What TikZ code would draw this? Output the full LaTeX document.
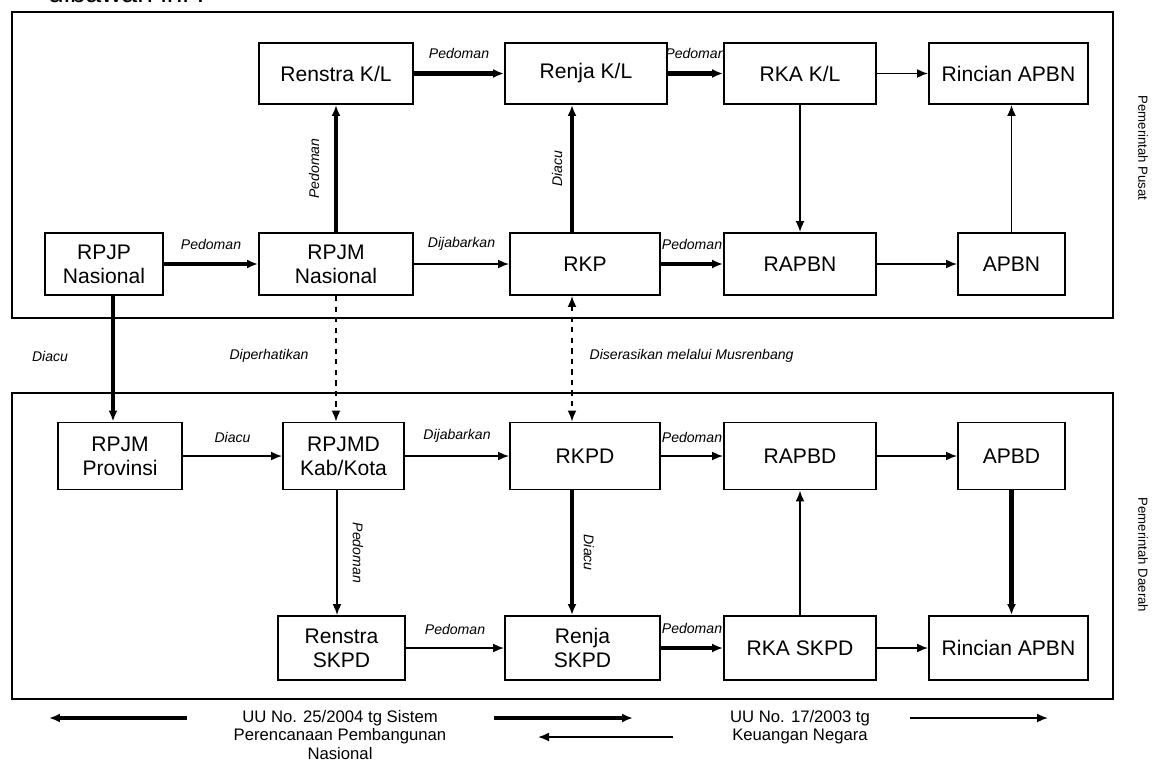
\documentclass[tikz,border=0pt]{standalone}
\usepackage{fontspec}
\setmainfont{Liberation Sans}
\usetikzlibrary{arrows.meta}

\begin{document}
\begin{tikzpicture}[
		x=0.02cm, y=-0.02cm,
		>={Latex[length=2.2mm,width=1.8mm]},
		line join=miter,
		kotak/.style={draw, line width=1.1pt, align=center, inner sep=1pt, font=\fontsize{12}{13.5}\selectfont},
		bingkai/.style={draw, line width=1.3pt},
		tebal/.style={->, line width=2.4pt},
		tipis/.style={->, line width=1pt},
		putus/.style={->, line width=1pt, dashed},
		ket/.style={font=\fontsize{8}{9}\selectfont\itshape, inner sep=1pt},
		sisi/.style={font=\fontsize{7.5}{9}\selectfont, rotate=-90},
		legenda/.style={font=\fontsize{9.5}{10.5}\selectfont, align=center}
		]
		\useasboundingbox (0,0) rectangle (1169,774);
		\clip (0,0) rectangle (1169,774);
		\node[anchor=base west, font=\fontsize{16}{18}\selectfont] (judul) at (42,3) {dibawah ini :};
		\draw[bingkai] (12,12) rectangle (1113,318);
		\draw[bingkai] (12,393) rectangle (1113,699);
		\node[sisi] (pusat) at (1143,148) {Pemerintah Pusat};
		\node[sisi] (daerah) at (1143,555) {Pemerintah Daerah};
		% pusat
		\node[kotak, minimum width=3.08cm, minimum height=1.22cm] (renstrakl) at (336,73.5) {Renstra K/L};
		\node[kotak, minimum width=3.24cm, minimum height=1.22cm] (renjakl) at (586,73.5) {Renja K/L};
		\node[kotak, minimum width=3.04cm, minimum height=1.22cm] (rkakl) at (800,73.5) {RKA K/L};
		\node[kotak, minimum width=3.18cm, minimum height=1.22cm] (rincianatas) at (1008.5,73.5) {Rincian APBN};
		\node[kotak, minimum width=2.36cm, minimum height=1.24cm] (rpjp) at (104,264) {RPJP\\Nasional};
		\node[kotak, minimum width=3.08cm, minimum height=1.24cm] (rpjm) at (336,264) {RPJM\\Nasional};
		\node[kotak, minimum width=3.00cm, minimum height=1.24cm] (rkp) at (585,264) {RKP};
		\node[kotak, minimum width=3.04cm, minimum height=1.24cm] (rapbn) at (800,264) {RAPBN};
		\node[kotak, minimum width=2.14cm, minimum height=1.24cm] (apbn) at (1011.5,264) {APBN};
		% daerah
		\node[kotak, minimum width=2.48cm, minimum height=1.34cm] (rpjmprov) at (120,456) {RPJM\\Provinsi};
		\node[kotak, minimum width=2.42cm, minimum height=1.34cm] (rpjmd) at (343.5,456) {RPJMD\\Kab/Kota};
		\node[kotak, minimum width=3.00cm, minimum height=1.34cm] (rkpd) at (585,456) {RKPD};
		\node[kotak, minimum width=3.04cm, minimum height=1.34cm] (rapbd) at (800,456) {RAPBD};
		\node[kotak, minimum width=2.14cm, minimum height=1.34cm] (apbd) at (1011.5,456) {APBD};
		\node[kotak, minimum width=2.54cm, minimum height=1.28cm] (renstraskpd) at (341.5,648) {Renstra\\SKPD};
		\node[kotak, minimum width=3.10cm, minimum height=1.28cm] (renjaskpd) at (582.5,648) {Renja\\SKPD};
		\node[kotak, minimum width=3.04cm, minimum height=1.28cm] (rkaskpd) at (800,648) {RKA SKPD};
		\node[kotak, minimum width=3.18cm, minimum height=1.28cm] (rincianbawah) at (1008.5,648) {Rincian APBN};
		% panah
		\draw[tebal] (rpjp.east) -- (rpjm.west) node[ket, midway, above=6pt] {Pedoman};
		\draw[tebal] (rpjm.north) -- (renstrakl.south) node[ket, midway, xshift=-0.44cm, rotate=90] {Pedoman};
		\draw[tebal] (renstrakl.east) -- (renjakl.west) node[ket, midway, above=6pt] {Pedoman};
		\draw[tebal] (renjakl.east) -- (rkakl.west) node[ket, midway, above=6pt] {Pedoman};
		\draw[tipis] (rpjm.east) -- (rkp.west) node[ket, midway, above=6pt] {Dijabarkan};
		\draw[tebal] ([xshift=-0.26cm]rkp.north) -- ([xshift=-0.26cm]rkp.north |- renjakl.south) node[ket, midway, xshift=-0.3cm, rotate=90] {Diacu};
		\draw[tebal] (rkp.east) -- (rapbn.west) node[ket, midway, above=6pt] {Pedoman};
		\draw[tipis] (rkakl.east) -- (rincianatas.west);
		\draw[tipis] (rkakl.south) -- (rapbn.north);
		\draw[tipis] (rapbn.east) -- (apbn.west);
		\draw[tipis] (apbn.north) -- (apbn.north |- rincianatas.south);
		\draw[tebal] ([xshift=0.18cm]rpjp.south) -- ([xshift=0.18cm]rpjp.south |- rpjmprov.north) node[ket, pos=0.48, xshift=-1.26cm] {Diacu};
		\draw[putus] (rpjm.south) -- (rpjm.south |- rpjmd.north) node[ket, pos=0.48, xshift=-1.34cm] {Diperhatikan};
		\draw[putus, <->] ([xshift=-0.26cm]rkp.south) -- ([xshift=-0.26cm]rkp.south |- rkpd.north) node[ket, pos=0.48, anchor=west, xshift=0.3cm] {Diserasikan melalui Musrenbang};
		\draw[tipis] (rpjmprov.east) -- (rpjmd.west) node[ket, midway, above=6pt] {Diacu};
		\draw[tipis] (rpjmd.east) -- (rkpd.west) node[ket, midway, above=6pt] {Dijabarkan};
		\draw[tipis] ([xshift=-0.13cm]rpjmd.south) -- ([xshift=-0.13cm]rpjmd.south |- renstraskpd.north) node[ket, midway, xshift=0.42cm, rotate=-90] {Pedoman};
		\draw[tebal] ([xshift=-0.26cm]rkpd.south) -- ([xshift=-0.26cm]rkpd.south |- renjaskpd.north) node[ket, midway, xshift=0.34cm, rotate=-90] {Diacu};
		\draw[tipis] (rkpd.east) -- (rapbd.west) node[ket, midway, above=6pt] {Pedoman};
		\draw[tipis] (rapbd.east) -- (apbd.west);
		\draw[tipis] (renstraskpd.east) -- (renjaskpd.west) node[ket, midway, above=6pt] {Pedoman};
		\draw[tebal] (renjaskpd.east) -- (rkaskpd.west) node[ket, midway, above=6pt] {Pedoman};
		\draw[tipis] (rkaskpd.north) -- (rapbd.south);
		\draw[tipis] (rkaskpd.east) -- (rincianbawah.west);
		\draw[tebal] (apbd.south) -- (apbd.south |- rincianbawah.north);
		% legenda
		\coordinate (l1a) at (187,718);
		\coordinate (l1b) at (49,718);
		\coordinate (l2a) at (494,718);
		\coordinate (l2b) at (633,718);
		\coordinate (l3a) at (673,737);
		\coordinate (l3b) at (538,737);
		\coordinate (l4a) at (910,718);
		\coordinate (l4b) at (1048,718);
		\draw[tebal] (l1a) -- (l1b);
		\draw[tebal] (l2a) -- (l2b);
		\draw[tipis] (l3a) -- (l3b);
		\draw[tipis] (l4a) -- (l4b);
		\node[legenda] (uu25) at (340,735) {UU No. 25/2004 tg Sistem\\Perencanaan Pembangunan\\Nasional};
		\node[legenda] (uu17) at (800,727) {UU No. 17/2003 tg\\Keuangan Negara};
		\end{tikzpicture}
\end{document}
